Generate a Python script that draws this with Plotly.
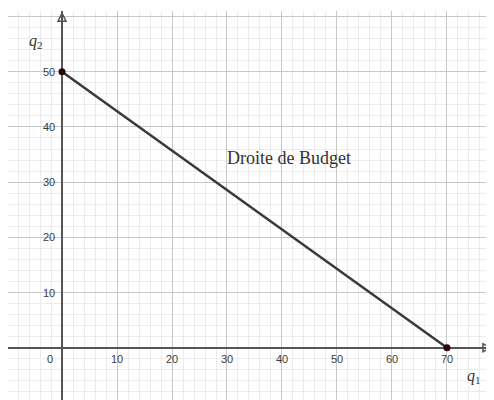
import plotly.graph_objects as go

# Data
q1_points = [0, 70]
q2_points = [50, 0]
x_tick_vals = [10, 20, 30, 40, 50, 60, 70]
y_tick_vals = [10, 20, 30, 40, 50]
line_label = "Droite de Budget"
label_pos = (41.3, 34.4)
x_axis_end = 78.0
y_axis_end = 60.6

fig = go.Figure()
fig.add_trace(go.Scatter(x=q1_points, y=q2_points, mode="lines",
                         line=dict(color="#3a3a3a", width=2.5), hoverinfo="skip"))
fig.add_trace(go.Scatter(x=q1_points, y=q2_points, mode="markers",
                         marker=dict(color="#2a0505", size=7), hoverinfo="skip"))
# axis arrowheads
fig.add_trace(go.Scatter(x=[x_axis_end, 0], y=[0, y_axis_end], mode="markers",
                         marker=dict(symbol=["arrow-right-open", "arrow-up-open"],
                                     size=8, color="#555555",
                                     line=dict(color="#555555", width=1.5)),
                         cliponaxis=False, hoverinfo="skip"))

ann = []
tick_font = dict(family="Liberation Sans, Arial, sans-serif", size=11, color="#3c3c3c")
for v in x_tick_vals:
    ann.append(dict(x=v, y=0, text=str(v), showarrow=False, xanchor="center",
                    yanchor="top", yshift=-3, font=tick_font))
for v in y_tick_vals:
    ann.append(dict(x=0, y=v, text=str(v), showarrow=False, xanchor="right",
                    yanchor="middle", xshift=-5, font=tick_font))
ann.append(dict(x=0, y=0, text="0", showarrow=False, xanchor="right",
                yanchor="top", xshift=-7, yshift=-3, font=tick_font))
# axis titles
ann.append(dict(x=-4.8, y=55.5, text="<i>q</i><sub>2</sub>", showarrow=False,
                font=dict(family="Liberation Serif, serif", size=16, color="#333")))
ann.append(dict(x=75.0, y=-5.3, text="<i>q</i><sub>1</sub>", showarrow=False,
                font=dict(family="Liberation Serif, serif", size=16, color="#333")))
# line label
ann.append(dict(x=label_pos[0], y=label_pos[1], text=line_label, showarrow=False,
                font=dict(family="Liberation Serif, serif", size=18, color="#333")))

# page body has an 8px default margin, so the figure is sized/ranged to compensate
fig.update_layout(
    width=486, height=392,
    margin=dict(l=0, r=0, t=3, b=0),
    paper_bgcolor="white", plot_bgcolor="white",
    showlegend=False,
    annotations=ann,
    xaxis=dict(range=[-9.82, 78.55], dtick=10, tick0=0, showticklabels=False,
               showgrid=True, gridcolor="#c8c8c8", gridwidth=1,
               zeroline=True, zerolinecolor="#555555", zerolinewidth=1.5,
               minor=dict(dtick=2, tick0=0, showgrid=True, gridcolor="#ececec", gridwidth=1),
               fixedrange=True),
    yaxis=dict(range=[-9.47, 61.0], dtick=10, tick0=0, showticklabels=False,
               showgrid=True, gridcolor="#c8c8c8", gridwidth=1,
               zeroline=True, zerolinecolor="#555555", zerolinewidth=1.5,
               minor=dict(dtick=2, tick0=0, showgrid=True, gridcolor="#ececec", gridwidth=1),
               fixedrange=True),
)

fig.write_html("out.html", config=dict(displayModeBar=False))
